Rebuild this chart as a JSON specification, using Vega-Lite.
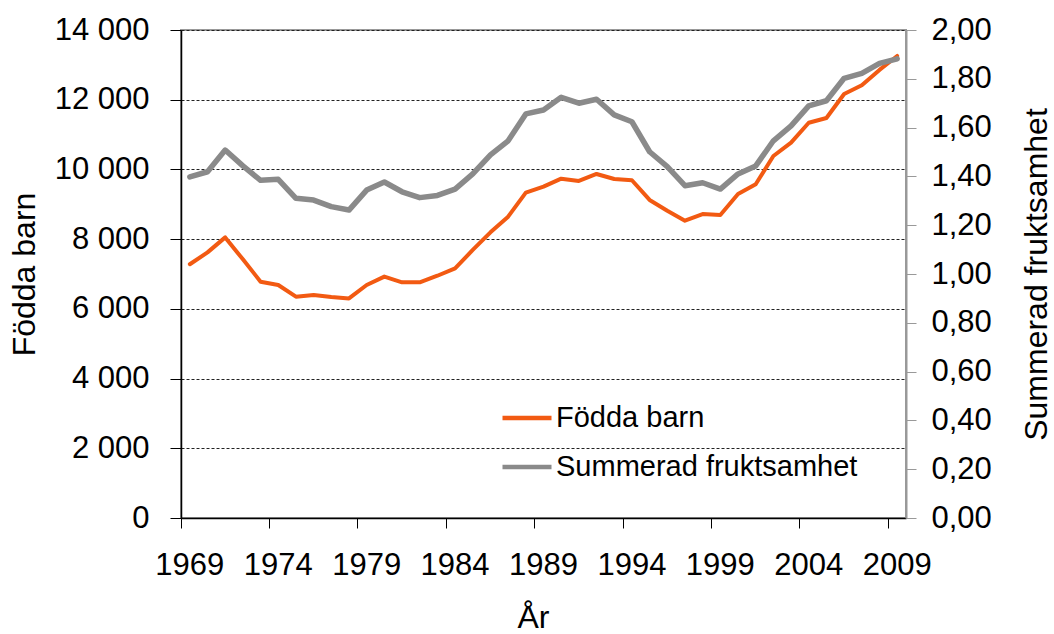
{
  "$schema": "https://vega.github.io/schema/vega-lite/v6.json",
  "width": 725,
  "height": 488,
  "autosize": {"type": "none"},
  "padding": {"left": 181, "top": 30, "right": 148, "bottom": 116},
  "background": "white",
  "config": {
    "font": "Liberation Sans",
    "view": {"stroke": "#999999", "strokeWidth": 2},
    "axis": {"labelColor": "black", "titleColor": "black", "titleFontWeight": "normal", "labelFontSize": 31, "titleFontSize": 32, "labelFont": "Liberation Sans", "titleFont": "Liberation Sans"}
  },
  "data": {
    "values": [
      {"year": 1969, "births": 7280, "tfr": 1.398},
      {"year": 1970, "births": 7620, "tfr": 1.419},
      {"year": 1971, "births": 8050, "tfr": 1.508},
      {"year": 1972, "births": 7420, "tfr": 1.443},
      {"year": 1973, "births": 6780, "tfr": 1.384},
      {"year": 1974, "births": 6685, "tfr": 1.388},
      {"year": 1975, "births": 6350, "tfr": 1.310},
      {"year": 1976, "births": 6400, "tfr": 1.303},
      {"year": 1977, "births": 6340, "tfr": 1.276},
      {"year": 1978, "births": 6300, "tfr": 1.262},
      {"year": 1979, "births": 6685, "tfr": 1.344},
      {"year": 1980, "births": 6925, "tfr": 1.377},
      {"year": 1981, "births": 6760, "tfr": 1.337},
      {"year": 1982, "births": 6760, "tfr": 1.313},
      {"year": 1983, "births": 6950, "tfr": 1.322},
      {"year": 1984, "births": 7160, "tfr": 1.348},
      {"year": 1985, "births": 7690, "tfr": 1.410},
      {"year": 1986, "births": 8195, "tfr": 1.488},
      {"year": 1987, "births": 8645, "tfr": 1.546},
      {"year": 1988, "births": 9335, "tfr": 1.656},
      {"year": 1989, "births": 9505, "tfr": 1.672},
      {"year": 1990, "births": 9735, "tfr": 1.724},
      {"year": 1991, "births": 9670, "tfr": 1.700},
      {"year": 1992, "births": 9870, "tfr": 1.716},
      {"year": 1993, "births": 9725, "tfr": 1.652},
      {"year": 1994, "births": 9690, "tfr": 1.624},
      {"year": 1995, "births": 9125, "tfr": 1.501},
      {"year": 1996, "births": 8815, "tfr": 1.440},
      {"year": 1997, "births": 8530, "tfr": 1.362},
      {"year": 1998, "births": 8720, "tfr": 1.374},
      {"year": 1999, "births": 8695, "tfr": 1.348},
      {"year": 2000, "births": 9295, "tfr": 1.410},
      {"year": 2001, "births": 9575, "tfr": 1.443},
      {"year": 2002, "births": 10385, "tfr": 1.546},
      {"year": 2003, "births": 10770, "tfr": 1.607},
      {"year": 2004, "births": 11340, "tfr": 1.689},
      {"year": 2005, "births": 11475, "tfr": 1.710},
      {"year": 2006, "births": 12165, "tfr": 1.802},
      {"year": 2007, "births": 12415, "tfr": 1.822},
      {"year": 2008, "births": 12855, "tfr": 1.863},
      {"year": 2009, "births": 13255, "tfr": 1.882}
    ]
  },
  "encoding": {
    "x": {
      "field": "year",
      "type": "ordinal",
      "scale": {"type": "band", "paddingInner": 0, "paddingOuter": 0},
      "axis": {
        "title": "År",
        "values": [1969, 1974, 1979, 1984, 1989, 1994, 1999, 2004, 2009],
        "labelAngle": 0,
        "bandPosition": 0,
        "labelOffset": 0,
        "domainColor": "black",
        "domainWidth": 1.5,
        "tickColor": "black",
        "tickSize": 10,
        "tickWidth": 1,
        "labelPadding": 22,
        "titleX": 352,
        "titleY": 109,
        "titleBaseline": "alphabetic",
        "grid": false
      }
    }
  },
  "layer": [
    {
      "mark": {"type": "line", "strokeWidth": 4, "strokeCap": "round", "strokeJoin": "round"},
      "encoding": {
        "y": {
          "field": "births",
          "type": "quantitative",
          "scale": {"domain": [0, 14000], "nice": false},
          "axis": {
            "title": "Födda barn",
            "values": [0, 2000, 4000, 6000, 8000, 10000, 12000, 14000],
            "labelExpr": "datum.value >= 1000 ? floor(datum.value / 1000) + ' 000' : '0'",
            "grid": true,
            "gridColor": "#222222",
            "gridDash": [3, 2],
            "gridWidth": 1,
            "domainColor": "black",
            "domainWidth": 1.5,
            "tickColor": "black",
            "tickSize": 11,
            "labelPadding": 21,
            "titleAngle": -90,
            "titleX": -147,
            "titleY": 244,
            "titleAlign": "center",
            "titleBaseline": "alphabetic"
          }
        },
        "color": {
          "datum": "Födda barn",
          "type": "nominal",
          "scale": {"domain": ["Födda barn", "Summerad fruktsamhet"], "range": ["#F25A12", "#8A8A8A"]},
          "legend": {
            "title": null,
            "orient": "none",
            "legendX": 319,
            "legendY": 361,
            "symbolType": "stroke",
            "symbolSize": 2401,
            "symbolStrokeWidth": 4.5,
            "labelFontSize": 29,
            "labelFont": "Liberation Sans",
            "labelColor": "black",
            "labelOffset": 2,
            "rowPadding": 7,
            "labelLimit": 500
          }
        }
      }
    },
    {
      "mark": {"type": "line", "strokeWidth": 5.5, "strokeCap": "round", "strokeJoin": "round"},
      "encoding": {
        "y": {
          "field": "tfr",
          "type": "quantitative",
          "scale": {"domain": [0, 2], "nice": false},
          "axis": {
            "orient": "right",
            "title": "Summerad fruktsamhet",
            "values": [0, 0.2, 0.4, 0.6, 0.8, 1.0, 1.2, 1.4, 1.6, 1.8, 2.0],
            "labelExpr": "replace(format(datum.value, '.2f'), '.', ',')",
            "grid": false,
            "domainColor": "#999999",
            "domainWidth": 2,
            "tickColor": "#999999",
            "tickSize": 10,
            "labelPadding": 15,
            "titleAngle": -90,
            "titleX": 140,
            "titleY": 244,
            "titleAlign": "center",
            "titleBaseline": "alphabetic"
          }
        },
        "color": {"datum": "Summerad fruktsamhet", "type": "nominal"}
      }
    }
  ],
  "resolve": {"scale": {"y": "independent"}}
}
